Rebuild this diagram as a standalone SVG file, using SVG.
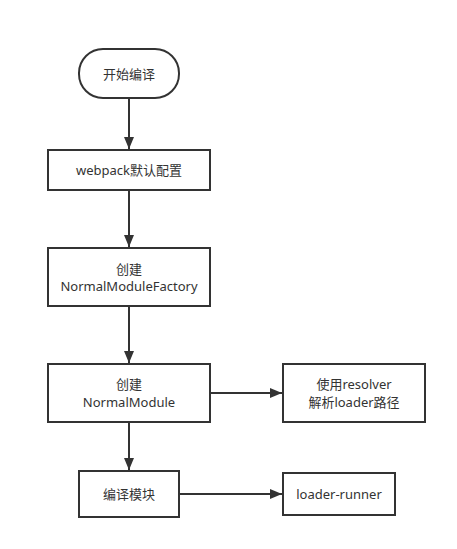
<svg xmlns="http://www.w3.org/2000/svg" width="457" height="549" viewBox="0 0 457 549">
<style>
.box{fill:#fff;stroke:#333;stroke-width:2}
.t{font-family:"Noto Sans","Noto Sans CJK SC",sans-serif;font-size:13px;fill:#333;text-anchor:middle;dominant-baseline:central}
.c{stroke:#333;stroke-width:2;fill:none}
</style>
<defs>
<marker id="ah" viewBox="0 0 12 10" refX="12" refY="5" markerWidth="12" markerHeight="10" markerUnits="userSpaceOnUse" orient="auto">
<path d="M0,0 L12,5 L0,10 Z" fill="#333"/>
</marker>
</defs>
<rect width="457" height="549" fill="#fff"/>
<g id="connectors">
<line class="c" x1="129" y1="98" x2="129" y2="149" marker-end="url(#ah)"/>
<line class="c" x1="129" y1="190" x2="129" y2="247" marker-end="url(#ah)"/>
<line class="c" x1="129" y1="306" x2="129" y2="363" marker-end="url(#ah)"/>
<line class="c" x1="210" y1="393" x2="282" y2="393" marker-end="url(#ah)"/>
<line class="c" x1="129" y1="422" x2="129" y2="470" marker-end="url(#ah)"/>
<line class="c" x1="179" y1="494" x2="282" y2="494" marker-end="url(#ah)"/>
</g>
<g id="start">
<rect class="box" x="79" y="49" width="100" height="49" rx="24" ry="24"/>
<text class="t" x="129" y="74">开始编译</text>
</g>
<g id="webpack">
<rect class="box" x="48" y="150" width="162" height="40"/>
<text class="t" x="129" y="170">webpack默认配置</text>
</g>
<g id="nmf">
<rect class="box" x="48" y="248" width="162" height="58"/>
<text class="t" x="129" y="268.5">创建</text>
<text class="t" x="129" y="286">NormalModuleFactory</text>
</g>
<g id="nm">
<rect class="box" x="48" y="364" width="162" height="58"/>
<text class="t" x="129" y="384">创建</text>
<text class="t" x="129" y="401.5">NormalModule</text>
</g>
<g id="resolver">
<rect class="box" x="283" y="364" width="142" height="58"/>
<text class="t" x="354" y="384">使用resolver</text>
<text class="t" x="354" y="401.5">解析loader路径</text>
</g>
<g id="compile">
<rect class="box" x="79" y="471" width="100" height="46"/>
<text class="t" x="129" y="494">编译模块</text>
</g>
<g id="runner">
<rect class="box" x="283" y="473" width="112" height="42"/>
<text class="t" x="339" y="494">loader-runner</text>
</g>
</svg>
